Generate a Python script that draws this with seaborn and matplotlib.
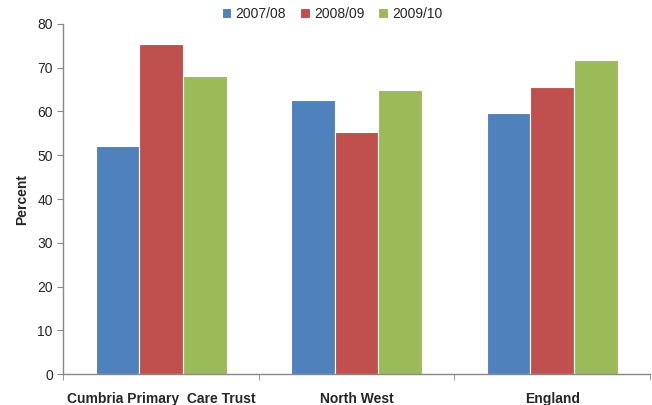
"""
Bar chart: percent by area and year
"""

from matplotlib import pyplot as plt
from matplotlib.ticker import FixedLocator
import pandas as pd
import seaborn as sns

areas = ["Cumbria Primary  Care Trust", "North West", "England"]
years = ["2007/08", "2008/09", "2009/10"]
values_0708 = [52.1, 62.6, 59.7]
values_0809 = [75.3, 55.4, 65.5]
values_0910 = [68.2, 64.9, 71.7]
colors = ["#4F81BD", "#C0504D", "#9BBB59"]

rows = []
for year, vals in zip(years, [values_0708, values_0809, values_0910]):
    for area, v in zip(areas, vals):
        rows.append({"area": area, "year": year, "value": v})
df = pd.DataFrame(rows)

sns.set_style("white")
plt.rcParams["font.family"] = ["Liberation Sans", "DejaVu Sans"]

fig = plt.figure(figsize=(6.52, 4.05), dpi=100)
ax = fig.add_axes([0.097, 0.076, 0.9, 0.865])

sns.barplot(
    data=df, x="area", y="value", hue="year",
    order=areas, hue_order=years, palette=colors,
    width=0.67, edgecolor="white", linewidth=0.8,
    saturation=1, ax=ax,
)

ax.set_ylim(0, 80)
ax.set_xlim(-0.5, 2.5)
ax.set_yticks(range(0, 81, 10))
ax.set_ylabel("Percent", fontsize=10, fontweight="bold", labelpad=6)
ax.set_xlabel("")
for spine in ["top", "right"]:
    ax.spines[spine].set_visible(False)
for spine in ["left", "bottom"]:
    ax.spines[spine].set_color("#888888")
    ax.spines[spine].set_linewidth(1)

ax.tick_params(axis="y", length=4, color="#888888", labelsize=10, left=True)
ax.tick_params(axis="x", which="major", length=0, labelsize=10, pad=13)
for lbl in ax.get_xticklabels():
    lbl.set_fontweight("bold")
ax.xaxis.set_minor_locator(FixedLocator([-0.5, 0.5, 1.5, 2.5]))
ax.tick_params(axis="x", which="minor", length=4, color="#888888", bottom=True)

ax.legend(
    loc="upper center", bbox_to_anchor=(0.458, 1.065), ncol=3, frameon=False,
    fontsize=10, handlelength=0.7, handleheight=0.7, handletextpad=0.3,
    columnspacing=1.0, borderaxespad=0,
)

fig.savefig("out.png", dpi=100)
